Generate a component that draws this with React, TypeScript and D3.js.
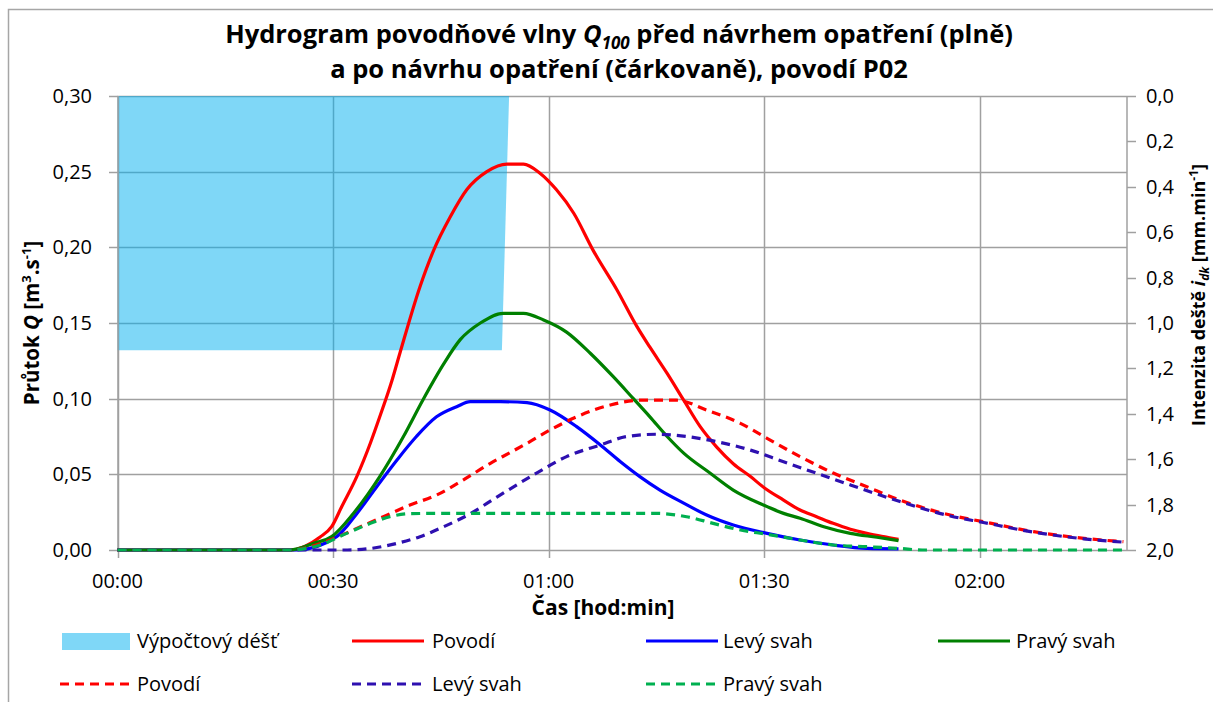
import React from 'react';
import * as d3 from 'd3';

// rain (secondary axis, mm/min)
const rainT = [0, 53.5, 54.5];
const rainI = [1.12, 1.12, 0];

// before measures (solid)
const povodiT = [0, 24, 28.2, 29.8, 31.2, 33.3, 35.2, 36.5, 38.2, 39.3, 42.1, 44.0, 46.3, 48.6, 51.4, 54.2, 56.5, 58.8, 61.1, 63.5, 66.2, 69.5, 72.3, 74.1, 76.5, 78.8, 81.1, 83.4, 85.7, 88.1, 90.1, 92.7, 95.0, 97.3, 99.6, 102.0, 104.3, 106.6, 108.7];
const povodiQ = [0, 0, 0.0086, 0.0154, 0.0286, 0.0485, 0.0707, 0.088, 0.112, 0.130, 0.174, 0.198, 0.220, 0.238, 0.250, 0.255, 0.255, 0.249, 0.238, 0.2225, 0.198, 0.172, 0.1476, 0.134, 0.1167, 0.099, 0.0815, 0.068, 0.057, 0.0485, 0.0408, 0.033, 0.0264, 0.022, 0.0176, 0.0137, 0.011, 0.0088, 0.007];

const levyT = [0, 25, 30.5, 33.3, 36.1, 38.9, 41.6, 44.4, 47.2, 49.1, 53.3, 57.0, 60.2, 63.9, 67.2, 70.0, 72.7, 75.5, 78.8, 82.0, 85.7, 90.4, 95.0, 99.6, 104.3, 108.7];
const levyQ = [0, 0, 0.0088, 0.024, 0.042, 0.0595, 0.075, 0.088, 0.0947, 0.098, 0.098, 0.0974, 0.0925, 0.0815, 0.0694, 0.0583, 0.0485, 0.0396, 0.031, 0.0231, 0.0165, 0.011, 0.0066, 0.0033, 0.0011, 0.0008];

const pravyT = [0, 24, 27.3, 29.8, 32.8, 36.5, 39.8, 42.6, 45.4, 47.7, 50.5, 53.7, 56.5, 59.3, 62.5, 65.8, 69.0, 71.8, 74.1, 76.5, 78.8, 82.5, 85.7, 89.9, 92.7, 95.0, 98.3, 102.0, 105.7, 108.7];
const pravyQ = [0, 0, 0.0044, 0.0088, 0.024, 0.0485, 0.075, 0.10, 0.123, 0.139, 0.15, 0.1564, 0.1564, 0.152, 0.144, 0.130, 0.1145, 0.100, 0.088, 0.075, 0.064, 0.0507, 0.0396, 0.0297, 0.0242, 0.021, 0.0154, 0.011, 0.0084, 0.0062];

// after measures (dashed)
const povodiPoT = [0, 24, 29.6, 33.3, 37.0, 40.7, 44.4, 48.1, 51.9, 54.5, 57.0, 60.2, 63.9, 68.6, 72.7, 77.8, 82.0, 86.7, 90.4, 95.0, 99.7, 104.3, 108.9, 115.9, 120.5, 127.5, 134.5, 140.0];
const povodiPoQ = [0, 0, 0.0066, 0.0143, 0.022, 0.0297, 0.0363, 0.0462, 0.0573, 0.064, 0.0705, 0.0793, 0.088, 0.0958, 0.099, 0.099, 0.0925, 0.0837, 0.0738, 0.0617, 0.0507, 0.0418, 0.033, 0.0231, 0.0187, 0.0121, 0.0077, 0.0055];

const levyPoT = [0, 32, 35.2, 38.9, 42.1, 45.4, 49.1, 52.8, 57.9, 62.5, 67.2, 70.9, 75.1, 79.2, 83.4, 88.1, 92.7, 97.3, 102, 108.9, 115.9, 120.5, 127.5, 134.5, 140.0];
const levyPoQ = [0, 0, 0.001, 0.0044, 0.0088, 0.0154, 0.024, 0.035, 0.0496, 0.0617, 0.0694, 0.075, 0.0765, 0.075, 0.0716, 0.066, 0.0583, 0.0507, 0.043, 0.032, 0.0225, 0.0182, 0.0118, 0.0074, 0.0052];

const pravyPoT = [0, 24, 28.2, 31.9, 35.2, 37.9, 40.7, 45.4, 75.0, 79.2, 82.9, 86.7, 90.4, 95.0, 99.6, 104.3, 108.9, 112, 140.0];
const pravyPoQ = [0, 0, 0.0033, 0.011, 0.0176, 0.022, 0.024, 0.0242, 0.0242, 0.022, 0.0176, 0.0132, 0.0104, 0.0066, 0.0033, 0.0022, 0.001, 0, 0];

const qTicks = [0, 0.05, 0.1, 0.15, 0.2, 0.25, 0.3];
const iTicks = [0, 0.2, 0.4, 0.6, 0.8, 1.0, 1.2, 1.4, 1.6, 1.8, 2.0];
const timeTicks = [0, 30, 60, 90, 120];
const timeLabels = ['00:00', '00:30', '01:00', '01:30', '02:00'];

const series = [
  { name: 'Povodí', t: povodiT, q: povodiQ, color: '#ff0000', dash: null },
  { name: 'Levý svah', t: levyT, q: levyQ, color: '#0000ff', dash: null },
  { name: 'Pravý svah', t: pravyT, q: pravyQ, color: '#008000', dash: null },
  { name: 'Povodí', t: povodiPoT, q: povodiPoQ, color: '#ff0000', dash: '9,6' },
  { name: 'Levý svah', t: levyPoT, q: levyPoQ, color: '#2e10b0', dash: '9,6' },
  { name: 'Pravý svah', t: pravyPoT, q: pravyPoQ, color: '#00b050', dash: '9,6' },
];

const W = 1213;
const H = 702;
const font = '"Open Sans", "Noto Sans", sans-serif';
const gridColor = '#a0a0a0';

export default function App() {
  const x = d3.scaleLinear().domain([0, 140.5]).range([117.5, 1127]);
  const y = d3.scaleLinear().domain([0, 0.3]).range([550, 96]);
  const yR = d3.scaleLinear().domain([0, 2]).range([96, 550]);

  const rainArea = d3.area<number>()
    .x((_, i) => x(rainT[i]))
    .y0(yR(0))
    .y1(d => yR(d));

  const fmtQ = (v: number) => v.toFixed(2).replace('.', ',');
  const fmtI = (v: number) => v.toFixed(1).replace('.', ',');

  const legendRow1 = [
    { lx: 352, tx: 432, s: series[0] },
    { lx: 646, tx: 723, s: series[1] },
    { lx: 938, tx: 1016, s: series[2] },
  ];
  const legendRow2 = [
    { lx: 60, tx: 137, s: series[3] },
    { lx: 352, tx: 432, s: series[4] },
    { lx: 646, tx: 723, s: series[5] },
  ];

  return (
    <svg width={W} height={H} style={{ position: 'absolute', left: 0, top: 0, background: '#fff' }} fontFamily={font}>
      <rect x={8.5} y={9.5} width={1400} height={900} fill="#fff" stroke="#a6a6a6" strokeWidth={1.5} />

      {/* title */}
      <text x={619} y={43} textAnchor="middle" fontSize={25.5} fontWeight="bold" fill="#000">
        Hydrogram povodňové vlny <tspan fontStyle="italic">Q</tspan>
        <tspan fontStyle="italic" fontSize={17} dy={6}>100</tspan>
        <tspan dy={-6}> před návrhem opatření (plně)</tspan>
      </text>
      <text x={619} y={78} textAnchor="middle" fontSize={25.5} fontWeight="bold" fill="#000">
        a po návrhu opatření (čárkovaně), povodí P02
      </text>

      {/* gridlines */}
      {qTicks.map(v => (
        <line key={'gq' + v} x1={117.5} x2={1127} y1={Math.round(y(v)) + 0.5} y2={Math.round(y(v)) + 0.5} stroke={gridColor} strokeWidth={1.5} />
      ))}
      {timeTicks.map(v => (
        <line key={'gt' + v} x1={Math.round(x(v)) + 0.5} x2={Math.round(x(v)) + 0.5} y1={96} y2={558} stroke={gridColor} strokeWidth={1.5} />
      ))}

      {/* rain */}
      <path d={rainArea(rainI) || ''} fill="#00b0f0" fillOpacity={0.5} />

      {/* axes */}
      <line x1={118} x2={118} y1={96} y2={550} stroke={gridColor} strokeWidth={1.5} />
      <line x1={1127} x2={1127} y1={96} y2={550} stroke={gridColor} strokeWidth={1.5} />
      {qTicks.map(v => (
        <line key={'tq' + v} x1={109} x2={118} y1={Math.round(y(v)) + 0.5} y2={Math.round(y(v)) + 0.5} stroke={gridColor} strokeWidth={1.5} />
      ))}
      {iTicks.map(v => (
        <line key={'ti' + v} x1={1127} x2={1136} y1={Math.round(yR(v)) + 0.5} y2={Math.round(yR(v)) + 0.5} stroke={gridColor} strokeWidth={1.5} />
      ))}

      {/* series */}
      {series.map((s, k) => {
        const line = d3.line<number>()
          .x((_, i) => x(s.t[i]))
          .y(d => y(d))
          .curve(d3.curveMonotoneX);
        return (
          <path key={'s' + k} d={line(s.q) || ''} fill="none" stroke={s.color} strokeWidth={3.2}
            strokeDasharray={s.dash || undefined} strokeLinejoin="round" />
        );
      })}

      {/* tick labels */}
      {qTicks.map(v => (
        <text key={'lq' + v} x={92} y={y(v) + 7} textAnchor="end" fontSize={20} fill="#000">{fmtQ(v)}</text>
      ))}
      {iTicks.map(v => (
        <text key={'li' + v} x={1146} y={yR(v) + 7} textAnchor="start" fontSize={20} fill="#000">{fmtI(v)}</text>
      ))}
      {timeTicks.map((v, i) => (
        <text key={'lt' + v} x={x(v)} y={588} textAnchor="middle" fontSize={20} fill="#000">{timeLabels[i]}</text>
      ))}

      {/* axis titles */}
      <text x={603} y={615} textAnchor="middle" fontSize={21} fontWeight="bold" fill="#000">Čas [hod:min]</text>
      <text transform="translate(39,323) rotate(-90)" textAnchor="middle" fontSize={20.5} fontWeight="bold" fill="#000">
        Průtok <tspan fontStyle="italic">Q</tspan> [m<tspan fontSize={13} dy={-8}>3</tspan>
        <tspan dy={8}>.s</tspan><tspan fontSize={13} dy={-8}>-1</tspan><tspan dy={8}>]</tspan>
      </text>
      <text transform="translate(1205,295) rotate(-90)" textAnchor="middle" fontSize={18} fontWeight="bold" fill="#000">
        Intenzita deště <tspan fontStyle="italic">i</tspan><tspan fontStyle="italic" fontSize={12} dy={4}>dk</tspan>
        <tspan dy={-4}> [mm.min</tspan><tspan fontSize={12} dy={-7}>-1</tspan><tspan dy={7}>]</tspan>
      </text>

      {/* legend */}
      <rect x={62} y={633} width={68} height={17} fill="#00b0f0" fillOpacity={0.5} />
      <text x={137} y={648} fontSize={20} fill="#000">Výpočtový déšť</text>
      {legendRow1.map((l, i) => (
        <g key={'l1' + i}>
          <line x1={l.lx} x2={l.lx + 72} y1={641} y2={641} stroke={l.s.color} strokeWidth={3.2} />
          <text x={l.tx} y={648} fontSize={20} fill="#000">{l.s.name}</text>
        </g>
      ))}
      {legendRow2.map((l, i) => (
        <g key={'l2' + i}>
          <line x1={l.lx} x2={l.lx + 70} y1={684} y2={684} stroke={l.s.color} strokeWidth={3.2} strokeDasharray={l.s.dash || undefined} />
          <text x={l.tx} y={691} fontSize={20} fill="#000">{l.s.name}</text>
        </g>
      ))}
    </svg>
  );
}
